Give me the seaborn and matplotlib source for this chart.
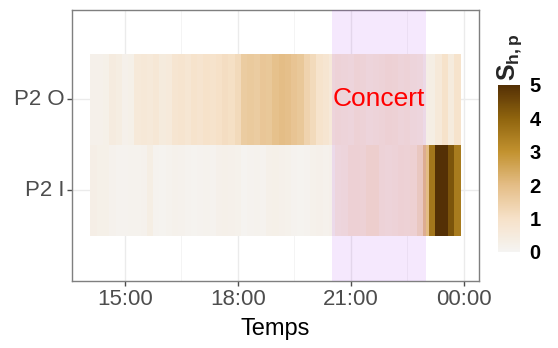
import numpy as np
import pandas as pd
import matplotlib
matplotlib.use("Agg")
import matplotlib.pyplot as plt
import seaborn as sns
from matplotlib.colors import LinearSegmentedColormap

# 10-minute bins, centres from 14:10 to 23:50
bin_centres = pd.date_range("2023-06-21 14:10", "2023-06-21 23:50", freq="10min")
bin_labels = list(bin_centres.strftime("%H:%M"))

rows = ["P2 O", "P2 I"]

p2_o = [0.20, 0.20, 0.25, 0.45, 0.40, 0.20, 0.25, 0.60, 0.65, 0.60,
        0.70, 0.50, 0.55, 0.80, 0.85, 0.75, 0.90, 0.85, 0.95, 0.90,
        1.00, 1.10, 1.05, 1.20, 1.60, 1.65, 1.60, 1.75, 1.70, 1.90,
        2.00, 1.95, 1.80, 1.70, 1.40, 1.20, 0.90, 0.80, 0.60, 0.70,
        0.65, 0.60, 0.75, 0.70, 0.60, 0.65, 0.70, 0.80, 0.75, 0.65,
        0.70, 0.60, 0.55, 0.30, 0.35, 0.60, 0.95, 0.50, 0.90]

p2_i = [0.30, 0.25, 0.25, 0.15, 0.10, 0.10, 0.12, 0.12, 0.15, 0.35,
        0.10, 0.08, 0.12, 0.18, 0.15, 0.10, 0.08, 0.10, 0.12, 0.10,
        0.20, 0.22, 0.20, 0.18, 0.05, 0.10, 0.12, 0.10, 0.22, 0.25,
        0.20, 0.18, 0.10, 0.08, 0.10, 0.18, 0.20, 0.15, 0.20, 0.55,
        0.60, 0.80, 0.80, 0.75, 0.95, 0.95, 0.70, 0.65, 0.70, 0.80,
        0.75, 0.85, 1.20, 2.00, 3.60, 5.00, 5.00, 4.30, 3.50]

tick_times = ["15:00", "18:00", "21:00", "00:00"]
minor_times = ["16:30", "19:30", "22:30"]
concert_start, concert_end = "20:30", "23:00"
fill_ticks = [0, 1, 2, 3, 4, 5]

first_edge_min = 14 * 60 + 5  # left edge of the first bin


def time_to_x(hhmm):
    h, m = map(int, hhmm.split(":"))
    if h < 12:
        h += 24
    return (h * 60 + m - first_edge_min) / 10.0


sns.set_style("white")
plt.rcParams["font.family"] = ["Liberation Sans", "DejaVu Sans"]
plt.rcParams["mathtext.fontset"] = "custom"
plt.rcParams["mathtext.bf"] = "Liberation Sans:bold"
plt.rcParams["mathtext.rm"] = "Liberation Sans"

cmap = LinearSegmentedColormap.from_list(
    "brown_fill",
    [(0.0, "#f5f4f2"), (0.2, "#f6e1c8"), (0.4, "#e4bd86"),
     (0.6, "#c2922f"), (0.8, "#8f640e"), (1.0, "#543005")])

fig = plt.figure(figsize=(5.58, 3.48), dpi=100)
ax = fig.add_axes([0.129, 0.1925, 0.729, 0.7785])
cax = fig.add_axes([0.892, 0.276, 0.0394, 0.48])

df = pd.DataFrame([p2_o, p2_i], index=rows, columns=bin_labels)
sns.heatmap(df, ax=ax, cmap=cmap, vmin=0, vmax=5, cbar_ax=cax,
            xticklabels=False, yticklabels=True, linewidths=0)

for s in ax.spines.values():
    s.set_visible(True)
    s.set_color("#7f7f7f")
    s.set_linewidth(1.0)

ax.set_xlim(-2.95, 61.9)
ax.set_ylim(2.5, -0.48)

ax.set_xticks([time_to_x(t) for t in tick_times])
ax.set_xticklabels(tick_times)
ax.set_xticks([time_to_x(t) for t in minor_times], minor=True)
ax.set_yticks([0.5, 1.5])
ax.set_yticklabels(rows, rotation=0)

ax.set_axisbelow(True)
ax.grid(True, which="major", color="#ebebeb", lw=1.0)
ax.grid(True, which="minor", axis="x", color="#f2f2f2", lw=0.6)

ax.tick_params(axis="both", which="major", length=3.5, width=1.0,
               color="#4d4d4d", labelcolor="#4d4d4d", labelsize=16,
               bottom=True, left=True, pad=2)
ax.tick_params(axis="x", which="minor", length=0)

ax.set_xlabel("Temps", fontsize=17, color="black", labelpad=6)
ax.set_ylabel("")

# concert period
ax.axvspan(time_to_x(concert_start), time_to_x(concert_end),
           color="#A020F0", alpha=0.1, lw=0, zorder=3)
ax.text((time_to_x(concert_start) + time_to_x(concert_end)) / 2, 0.5,
        "Concert", color="red", fontsize=19, ha="center", va="center",
        zorder=4)

# colour bar
cax.set_yticks(fill_ticks)
cax.set_yticklabels([str(t) for t in fill_ticks])
cax.tick_params(axis="y", length=3, width=1, color="white", direction="in",
                labelsize=14.5, labelcolor="black", pad=7,
                left=True, right=True)
for lab in cax.get_yticklabels():
    lab.set_fontweight("bold")
for s in cax.spines.values():
    s.set_visible(False)
fig.text(0.914, 0.835, r"$\mathbf{S_{h,p}}$", rotation=90, fontsize=18,
         ha="center", va="center")

fig.savefig("out.png", dpi=100)
